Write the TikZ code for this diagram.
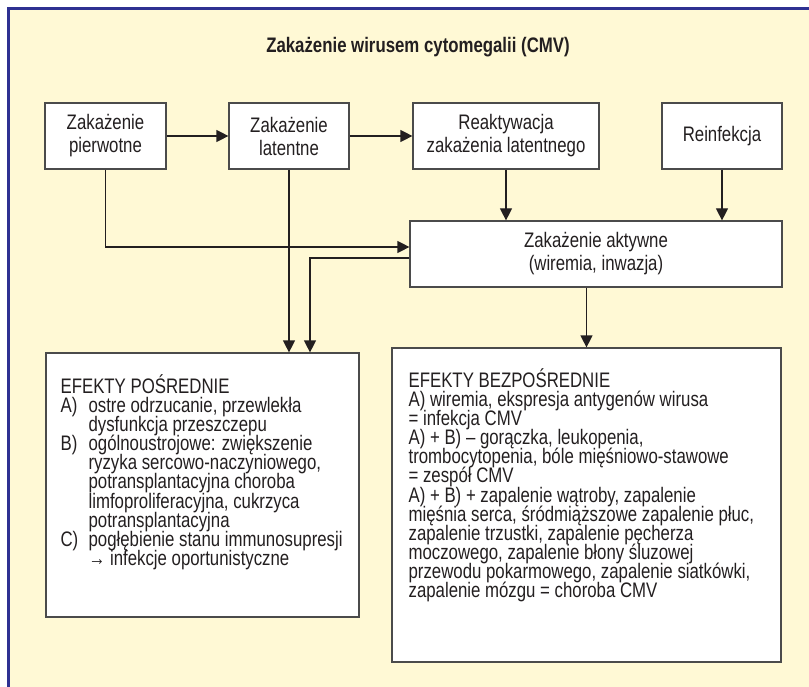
\documentclass[tikz,border=0pt]{standalone}
\usepackage{fontspec}
\setmainfont[FakeStretch=0.8]{Liberation Sans}
\usepackage{tikz}
\usetikzlibrary{arrows.meta,calc}
\definecolor{bgyellow}{RGB}{255,249,213}
\definecolor{frameblue}{RGB}{46,49,146}
\definecolor{ink}{RGB}{35,31,32}
\definecolor{boxline}{RGB}{75,75,75}
\tikzstyle{box}=[draw=boxline,line width=1.2pt,fill=white,inner sep=0pt,align=center,text=ink,font=\fontsize{21}{23}\selectfont]
\tikzstyle{txt}=[inner sep=0pt,align=left,text=ink,font={\fontsize{21}{19.1}\selectfont\lineskiplimit=-20pt}]
\tikzstyle{conn}=[draw=ink,line width=1.2pt,-{Triangle[length=12pt,width=12pt]}]
\newcommand{\itm}[1]{\makebox[28pt][l]{#1}}

\begin{document}
\begin{tikzpicture}[x=1pt,y=-1pt]
    \useasboundingbox (0,0) rectangle (809,687);
    % Background and the blue frame
    \fill[bgyellow] (8.5,8.5) rectangle (809,687);
    \draw[frameblue,line width=3pt] (8.5,687) -- (8.5,8.5) -- (809,8.5);
    \node[anchor=base,text=ink,font=\fontsize{21}{22}\selectfont\bfseries] (title) at (418,53) {Zakażenie wirusem cytomegalii (CMV)};
    % First we draw the boxes
    \foreach \pos/\name/\bw/\txt in {{(105.5,136)/pierw/121/{Zakażenie\\pierwotne}}, {(289,136)/latent/120/{Zakażenie\\latentne}}, {(506,136)/reakt/186/{Reaktywacja\\zakażenia latentnego}}, {(722,136)/reinf/120/{Reinfekcja}}, {(596,254)/aktyw/372/{Zakażenie aktywne\\(wiremia, inwazja)}}}
        \node[box,minimum width=\bw pt,minimum height=66pt] (\name) at \pos {\txt};
    \node[box,minimum width=313pt,minimum height=264pt] (posred) at (202.5,485) {};
    \node[box,minimum width=389pt,minimum height=314pt] (bezpos) at (586.5,505) {};
    % Texts of the two effect boxes
    \node[txt,anchor=north west] (posredtxt) at ([xshift=15pt,yshift=-22pt]posred.north west) {EFEKTY POŚREDNIE\\
        \itm{A)}ostre odrzucanie, przewlekła\\
        \itm{}dysfunkcja przeszczepu\\
        \itm{B)}ogólnoustrojowe: zwiększenie\\
        \itm{}ryzyka sercowo-naczyniowego,\\
        \itm{}potransplantacyjna choroba\\
        \itm{}limfoproliferacyjna, cukrzyca\\
        \itm{}potransplantacyjna\\
        \itm{C)}pogłębienie stanu immunosupresji\\
        \itm{}→ infekcje oportunistyczne};
    \node[txt,anchor=north west] (bezpostxt) at ([xshift=17pt,yshift=-21pt]bezpos.north west) {EFEKTY BEZPOŚREDNIE\\
        A) wiremia, ekspresja antygenów wirusa\\
        = infekcja CMV\\
        A) + B) – gorączka, leukopenia,\\
        trombocytopenia, bóle mięśniowo-stawowe\\
        = zespół CMV\\
        A) + B) + zapalenie wątroby, zapalenie\\
        mięśnia serca, śródmiąższowe zapalenie płuc,\\
        zapalenie trzustki, zapalenie pęcherza\\
        moczowego, zapalenie błony śluzowej\\
        przewodu pokarmowego, zapalenie siatkówki,\\
        zapalenie mózgu = choroba CMV};
    % Connect boxes with arrows
    \foreach \source/\dest in {pierw/latent, latent/reakt}
        \path[conn] (\source) -- (\dest);
    \foreach \source in {reakt, reinf}
        \path[conn] (\source.south) -- (\source.south |- aktyw.north);
    \path[conn] (pierw.south) |- ([yshift=7pt]aktyw.west);
    \path[conn] (latent.south) -- (latent.south |- posred.north);
    \coordinate (bend) at ([xshift=21pt]latent.south |- posred.north);
    \path[conn] ([yshift=-4pt]aktyw.west) -| (bend);
    \path[conn] (aktyw.south -| bezpos.north) -- (bezpos.north);
\end{tikzpicture}
\end{document}
